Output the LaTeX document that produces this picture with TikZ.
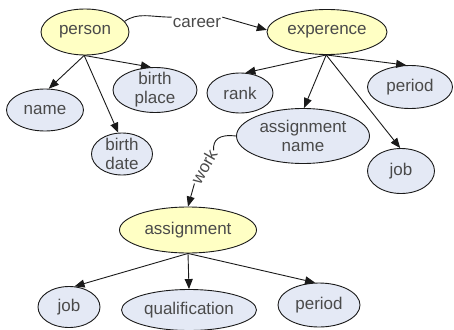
\documentclass[tikz,border=0pt]{standalone}
\usepackage{fontspec}
\setmainfont{Liberation Sans}
\usetikzlibrary{shapes.geometric,arrows.meta}
\definecolor{yel}{HTML}{FFFFC4}
\definecolor{blu}{HTML}{E4E9F5}
\definecolor{txt}{HTML}{4A4A4A}
\definecolor{edge}{HTML}{1A1A1A}
\tikzset{
  base/.style={ellipse, draw=edge, line width=0.9pt, inner sep=0pt},
  cls/.style={base, fill=yel},
  attr/.style={base, fill=blu},
  lbl/.style={text=txt, font=\fontsize{17}{19}\selectfont, align=center, inner sep=0pt},
  elbl/.style={text=txt, font=\fontsize{17}{19}\selectfont, inner sep=1pt},
  arr/.style={draw=edge, line width=0.9pt, -{Triangle[length=10pt,width=8pt]}},
  ln/.style={draw=edge, line width=0.9pt}
}
\begin{document}
\begin{tikzpicture}[x=1pt,y=-1pt]
\useasboundingbox (0,0) rectangle (454,329);
% nodes
\node[cls, minimum width=88pt, minimum height=46pt, label={[lbl]center:person}] (person) at (85,32) {};
\node[attr, minimum width=77pt, minimum height=42pt, label={[lbl]center:name}] (name) at (45,110) {};
\node[attr, minimum width=84pt, minimum height=45pt, label={[lbl]center:birth\\place}] (bp) at (155,90) {};
\node[attr, minimum width=61pt, minimum height=42pt, label={[lbl]center:birth\\date}] (bd) at (122,154) {};
\node[cls, minimum width=120pt, minimum height=45pt, label={[lbl]center:experence}] (exp) at (327,32) {};
\node[attr, minimum width=66pt, minimum height=40pt, label={[lbl]center:rank}] (rank) at (240,93) {};
\node[attr, minimum width=85pt, minimum height=43pt, label={[lbl]center:period}] (per1) at (410,87) {};
\node[attr, minimum width=133pt, minimum height=55pt, label={[lbl]center:assignment\\name}] (an) at (303,136) {};
\node[attr, minimum width=67pt, minimum height=45pt, label={[lbl]center:job}] (job1) at (401,171) {};
\node[cls, minimum width=137pt, minimum height=46pt, label={[lbl]center:assignment}] (asg) at (188,230) {};
\node[attr, minimum width=62pt, minimum height=41pt, label={[lbl]center:job}] (job2) at (69,307) {};
\node[attr, minimum width=135pt, minimum height=41pt, label={[lbl]center:qualification}] (qual) at (189,310) {};
\node[attr, minimum width=82pt, minimum height=44pt, label={[lbl]center:period}] (per2) at (319,305) {};
% edge labels
\node[elbl] (career) at (197,23) {career};
\node[elbl, rotate=60] (work) at (204,167) {work};
% edges
\draw[arr] (person.-92) -- (name.80);
\draw[arr] (person.-92) -- (bd.100);
\draw[arr] (person.-92) -- (bp.100);
\draw[arr] (exp.-92) -- (rank.75);
\draw[arr] (exp.-92) -- (per1.100);
\draw[arr] (exp.-92) -- (an.88);
\draw[arr] (exp.-92) -- (job1.92);
\draw[arr] (asg.south) -- (job2.75);
\draw[arr] (asg.south) -- (qual.north);
\draw[arr] (asg.south) -- (per2.100);
\draw[ln] (person.15) .. controls (138,12) and (150,17) .. (career.north west);
\draw[arr] (career.north east) -- (exp.178);
\draw[ln] (an.west) .. controls (218,134) and (213,140) .. (work.east);
\draw[arr] (work.west) -- (asg.north);
\end{tikzpicture}
\end{document}
